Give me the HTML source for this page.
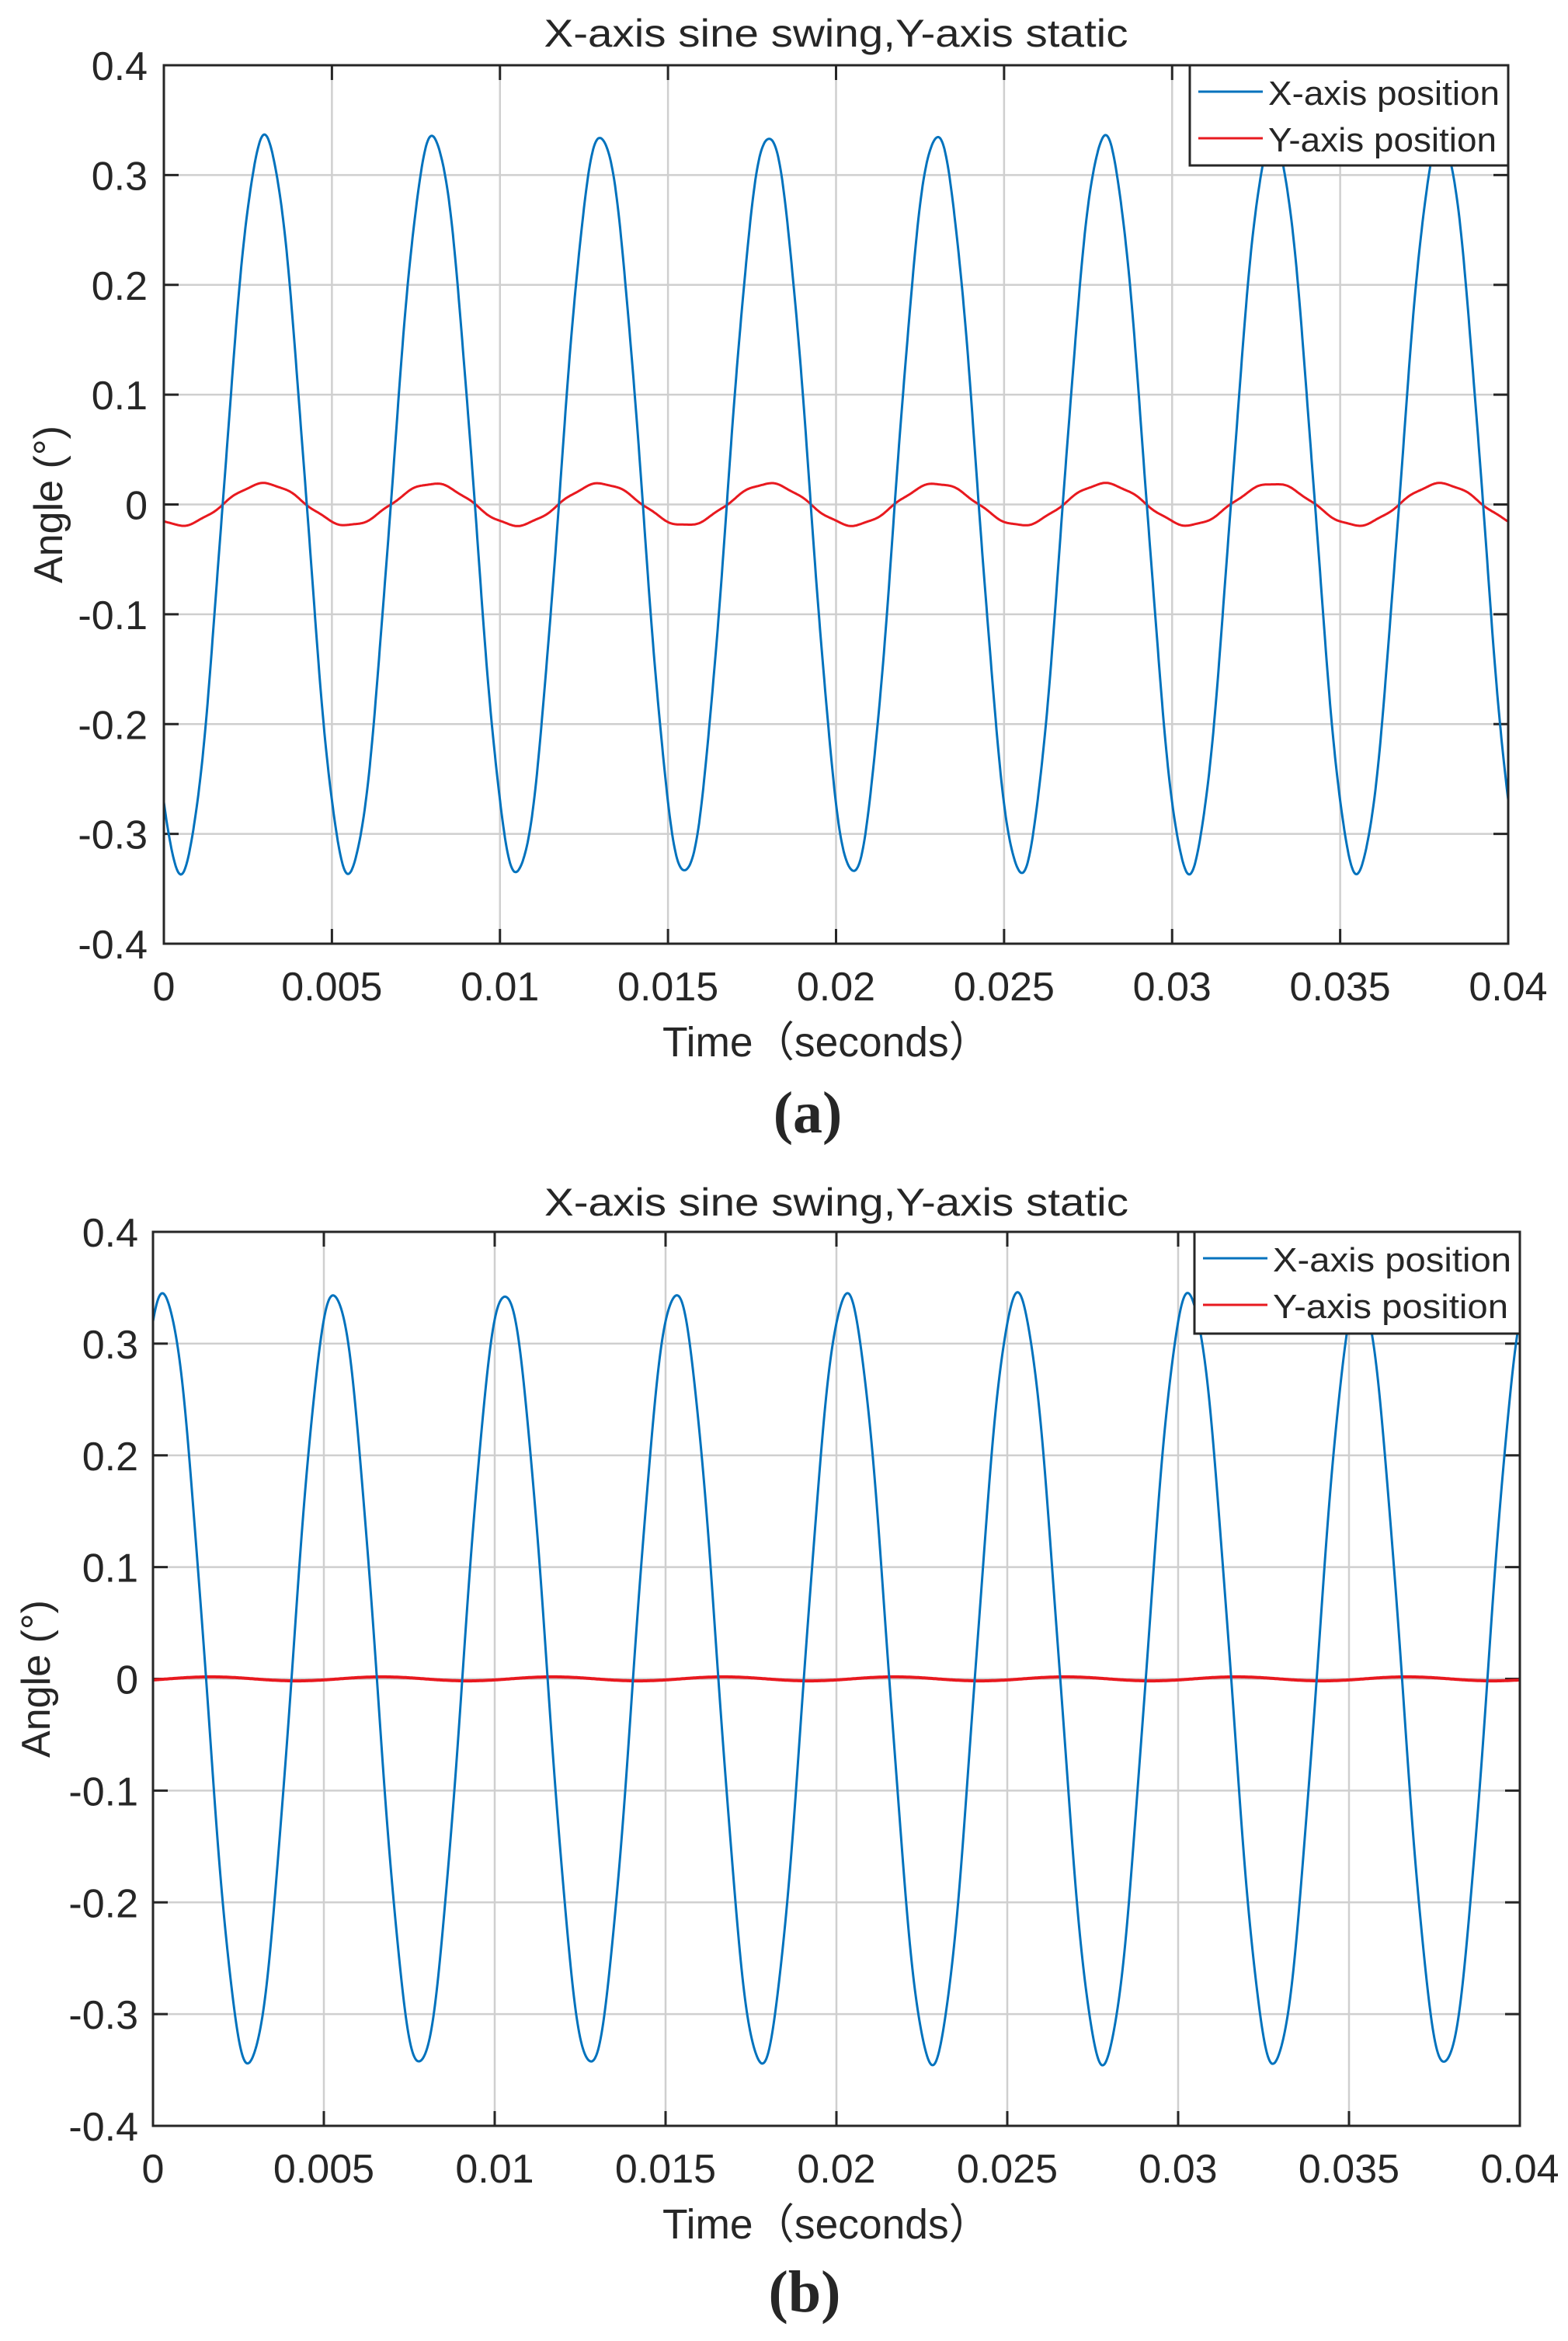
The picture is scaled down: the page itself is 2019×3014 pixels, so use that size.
<!DOCTYPE html>
<html><head><meta charset="utf-8"><style>
html,body{margin:0;padding:0;background:#fff;}
svg{display:block;}
text{font-family:"Liberation Sans","Noto Sans CJK SC",sans-serif;fill:#262626;}
</style></head><body>
<svg id="s" width="2019" height="3014" viewBox="0 0 2019 3014" xmlns="http://www.w3.org/2000/svg"></svg>
<script>
const S=document.getElementById('s');
let h='';
function chart(o){
 const {L,R,T,B}=o, W=R-L, H=B-T;
 const X=t=>L+t/0.04*W, Y=v=>T+(0.4-v)/0.8*H;
 for(let i=1;i<8;i++){const x=X(i*0.005);h+=`<line x1="${x}" y1="${T}" x2="${x}" y2="${B}" stroke="#cfcfcf" stroke-width="2.5"/>`;}
 for(let i=1;i<8;i++){const y=Y(0.4-i*0.1);h+=`<line x1="${L}" y1="${y}" x2="${R}" y2="${y}" stroke="#cfcfcf" stroke-width="2.5"/>`;}
 for(let i=0;i<=8;i++){const x=X(i*0.005);h+=`<line x1="${x}" y1="${B}" x2="${x}" y2="${B-19}" stroke="#262626" stroke-width="3"/><line x1="${x}" y1="${T}" x2="${x}" y2="${T+19}" stroke="#262626" stroke-width="3"/>`;
  const lab=i==0?'0':String(+(i*0.005).toFixed(3));
  h+=`<text x="${x}" y="${B+73}" font-size="52" text-anchor="middle">${lab}</text>`;}
 for(let i=0;i<=8;i++){const v=+(0.4-i*0.1).toFixed(1),y=Y(v);h+=`<line x1="${L}" y1="${y}" x2="${L+19}" y2="${y}" stroke="#262626" stroke-width="3"/><line x1="${R}" y1="${y}" x2="${R-19}" y2="${y}" stroke="#262626" stroke-width="3"/>`;
  h+=`<text x="${o.yl}" y="${y+19}" font-size="52" text-anchor="end">${v==0?'0':v}</text>`;}
 let p1='',p2='';
 for(let k=0;k<=1600;k++){const t=k/1600*0.04;
  p1+=(k?'L':'M')+X(t).toFixed(1)+' '+Y(o.fx(t)).toFixed(1);
  p2+=(k?'L':'M')+X(t).toFixed(1)+' '+Y(o.fy(t)).toFixed(1);}
 h+=`<path d="${p2}" fill="none" stroke="#e8191f" stroke-width="${o.yw}"/>`;
 h+=`<path d="${p1}" fill="none" stroke="#0072bd" stroke-width="3"/>`;
 h+=`<rect x="${L}" y="${T}" width="${W}" height="${H}" fill="none" stroke="#262626" stroke-width="3"/>`;
 const g=o.lg;
 h+=`<rect x="${g.x}" y="${g.y}" width="${g.w}" height="${g.h}" fill="#fff" stroke="#262626" stroke-width="3"/>`;
 h+=`<line x1="${g.x+11}" y1="${g.y+34}" x2="${g.x+94}" y2="${g.y+34}" stroke="#0072bd" stroke-width="3"/>`;
 h+=`<line x1="${g.x+11}" y1="${g.y+94}" x2="${g.x+94}" y2="${g.y+94}" stroke="#e8191f" stroke-width="3"/>`;
 h+=`<text x="${g.x+101}" y="${g.y+51}" font-size="44" fill="#000" textLength="${g.w-112}" lengthAdjust="spacingAndGlyphs">X-axis position</text>`;
 h+=`<text x="${g.x+101}" y="${g.y+111}" font-size="44" fill="#000" textLength="${g.w-116}" lengthAdjust="spacingAndGlyphs">Y-axis position</text>`;
 h+=`<text x="${(L+R)/2}" y="${o.ty}" font-size="50" text-anchor="middle" textLength="752" lengthAdjust="spacingAndGlyphs">X-axis sine swing,Y-axis static</text>`;
 h+=`<text x="${o.xlc}" y="${B+145}" font-size="54" text-anchor="middle" textLength="422" lengthAdjust="spacingAndGlyphs">Time（seconds）</text>`;
 h+=`<text transform="translate(${o.ylx},${(T+B)/2}) rotate(-90)" font-size="52" text-anchor="middle">Angle (°)</text>`;
 h+=`<text x="${o.cx}" y="${o.cy}" font-size="76" font-weight="bold" text-anchor="middle" style="font-family:'Liberation Serif',serif" fill="#000">${o.cap}</text>`;
}
const P=2*Math.PI/0.005;
chart({L:211,R:1942,T:84,B:1215,yl:190,ylx:80,ty:60,cy:1458,cx:1040,xlc:1064,cap:'(a)',yw:3,
 fx:t=>0.335*Math.cos(P*(t-0.003))+0.002*Math.sin(t*9000),
 fy:t=>0.019*Math.cos(P*(t-0.003))+0.0007*Math.sin(t*7000),
 lg:{x:1532,y:84,w:410,h:129}});
chart({L:197,R:1957,T:1586,B:2737,yl:178,ylx:64,ty:1565,cy:2976,cx:1036,xlc:1064,cap:'(b)',yw:4,
 fx:t=>0.344*Math.cos(P*(t-0.0003))+0.002*Math.sin(t*9000),
 fy:t=>0.0018*Math.cos(P*(t-0.0017)),
 lg:{x:1538,y:1586,w:419,h:131}});
S.innerHTML=h;
</script>
</body></html>
